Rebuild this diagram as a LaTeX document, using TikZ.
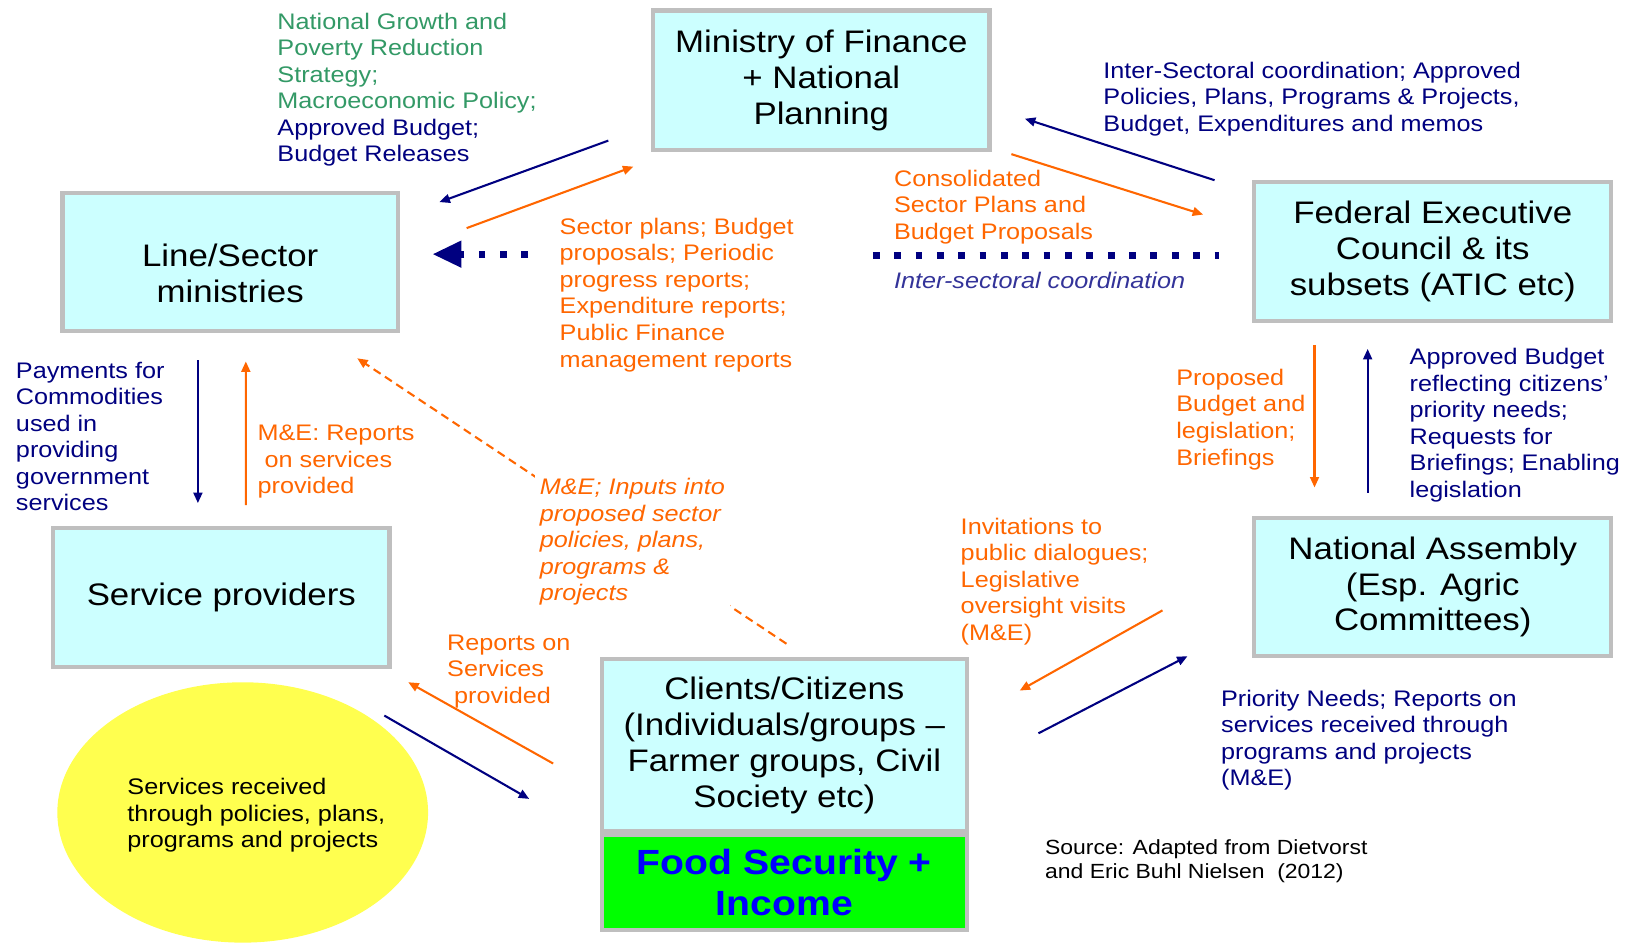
\documentclass[tikz,border=0pt]{standalone}
\usepackage{fontspec}
\setmainfont{Liberation Sans}[FakeStretch=1.12]
\usepackage{xcolor}
\usepackage{tikz}
\usetikzlibrary{shapes}
\usetikzlibrary{arrows.meta, calc}
\definecolor{navy}{HTML}{000080}
\definecolor{orng}{HTML}{FF6600}
\definecolor{grn}{HTML}{339966}
\definecolor{indig}{HTML}{333399}
\definecolor{boxcyan}{HTML}{CCFFFF}
\definecolor{boxgray}{HTML}{BFBFBF}
\definecolor{ylw}{HTML}{FFFF4F}
\definecolor{fsgreen}{HTML}{00FF00}
\definecolor{fsblue}{HTML}{0000FF}
\newcommand{\bxfont}{\fontsize{17}{19.6}\selectfont}
\newcommand{\lbfont}{\fontsize{12.3}{14.5}\selectfont}
\newcommand{\srcfont}{\fontsize{11.2}{13}\selectfont}
\newcommand{\fsfont}{\fontsize{19.1}{22.2}\selectfont\bfseries}

\begin{document}
\begin{tikzpicture}[x=0.02cm, y=-0.02cm,
		bx/.style 2 args={
			draw=boxgray,
			line width=0.08cm,
			outer sep=0.04cm,
			fill=boxcyan,
			inner sep=0pt,
			align=center,
			font=\bxfont,
			minimum width=#1,
			minimum height=#2},
		lb/.style={anchor=north west, inner sep=0pt, align=left, font=\lbfont, text=#1},
		navyarr/.style={draw=navy, line width=0.04cm, -{Triangle[length=0.2cm, width=0.17cm]}},
		orarr/.style={draw=orng, line width=0.04cm, -{Triangle[length=0.2cm, width=0.17cm]}},
		sqdots/.style={draw=navy, line width=0.14cm, dash pattern=on 0.13cm off 0.28cm}
		]
		\useasboundingbox (0, 0) rectangle (1562, 905);
		\node [bx={6.46cm}{2.68cm}] (mof) at (788.5, 77) {Ministry of Finance\\+ National\\Planning};
		\node [bx={6.44cm}{2.66cm}, label={[font=\bxfont, align=center, yshift=-0.22cm]center:Line/Sector\\ministries}] (ls) at (221, 251.5) {};
		\node [bx={6.86cm}{2.66cm}] (fec) at (1375.5, 241.5) {Federal Executive\\Council \& its\\subsets (ATIC etc)};
		\node [bx={6.46cm}{2.66cm}] (sp) at (212.5, 573.5) {Service providers};
		\node [bx={6.86cm}{2.66cm}] (na) at (1375.5, 563.5) {National Assembly\\(Esp. Agric\\Committees)};
		\node [bx={7cm}{3.3cm}] (cc) at (753, 715.5) {Clients/Citizens\\(Individuals/groups –\\Farmer groups, Civil\\Society etc)};
		\node [bx={7cm}{1.82cm}, fill=fsgreen, font=\fsfont, text=fsblue] (fs) at (753, 847.5) {Food Security +\\Income};
		\node [ellipse, fill=ylw, minimum width=7.12cm, minimum height=5cm, inner sep=0pt] (sv) at (233, 780) {};
		\node [lb=black] (svt) at (122, 747) {Services received\\through policies, plans,\\programs and projects};
		\draw[navyarr] ($(mof.south west)+(-41,-11)$) to ($(ls.north east)+(38,11)$);
		\draw[orarr] ($(ls.north east)+(64,36)$) to ($(mof.south west)+(-17,14)$);
		\draw[sqdots, -{Triangle[length=0.56cm, width=0.48cm]}] ($(ls.east)+(123,-7.5)$) to ($(ls.east)+(31,-7.5)$);
		\draw[sqdots] ($(fec.west)+(-364,3.5)$) to ($(fec.west)+(-32,3.5)$);
		\draw[navyarr] ($(fec.north west)+(-36,0)$) to ($(mof.south east)+(32,-32)$);
		\draw[orarr] ($(mof.south east)+(19,2)$) to ($(fec.north west)+(-47,33)$);
		\draw[navyarr] ($(ls.south)+(-31,26)$) to ($(sp.north)+(-22.5,-22)$);
		\draw[orarr] ($(sp.north)+(23.5,-20)$) to ($(ls.south)+(15,27)$);
		\draw[orarr, dash pattern=on 0.16cm off 0.1cm] ($(cc.north)+(2,-13)$) to ($(ls.south)+(122,24)$);
		\draw[orarr] ($(fec.south)+(-113.5,21)$) to ($(na.north)+(-113.5,-27)$);
		\draw[navyarr] ($(na.north)+(-62.5,-22)$) to ($(fec.south)+(-62.5,25)$);
		\draw[orarr] ($(na.west)+(-86,22.5)$) to ($(cc.east)+(49,-52.5)$);
		\draw[navyarr] ($(cc.east)+(67,-11.5)$) to ($(na.south west)+(-62,-2)$);
		\draw[orarr] ($(cc.west)+(-45,17.5)$) to ($(sp.south east)+(16,13)$);
		\draw[navyarr] ($(sp.south east)+(-7,45)$) to ($(cc.west)+(-68,51.5)$);
		\node [lb=grn] (pol) at (266, 12) {National Growth and\\Poverty Reduction\\Strategy;\\Macroeconomic Policy;\\\textcolor{navy}{Approved Budget;}\\\textcolor{navy}{Budget Releases}};
		\node [lb=orng] (spl) at (537, 209) {Sector plans; Budget\\proposals; Periodic\\progress reports;\\Expenditure reports;\\Public Finance\\management reports};
		\node [lb=orng] (csp) at (858, 163) {Consolidated\\Sector Plans and\\Budget Proposals};
		\node [lb=indig, font=\lbfont\itshape] (isc) at (858, 261) {Inter-sectoral coordination};
		\node [lb=navy] (apr) at (1059, 59) {Inter-Sectoral coordination; Approved\\Policies, Plans, Programs \& Projects,\\Budget, Expenditures and memos};
		\node [lb=navy] (pay) at (15, 347) {Payments for\\Commodities\\used in\\providing\\government\\services};
		\node [lb=orng] (mer) at (247, 408) {M\&E: Reports\\~on services\\provided};
		\node [lb=orng, font=\lbfont\itshape, fill=white, inner sep=0.1cm] (mei) at (513, 454) {M\&E; Inputs into\\proposed sector\\policies, plans,\\programs \&\\projects};
		\node [lb=orng] (pbl) at (1129, 354) {Proposed\\Budget and\\legislation;\\Briefings};
		\node [lb=navy] (abr) at (1353, 334) {Approved Budget\\reflecting citizens’\\priority needs;\\Requests for\\Briefings; Enabling\\legislation};
		\node [lb=orng] (inv) at (922, 497) {Invitations to\\public dialogues;\\Legislative\\oversight visits\\(M\&E)};
		\node [lb=orng] (ros) at (429, 609) {Reports on\\Services\\~provided};
		\node [lb=navy] (prn) at (1172, 662) {Priority Needs; Reports on\\services received through\\programs and projects\\(M\&E)};
		\node [lb=black, font=\srcfont] (src) at (1003, 806) {Source: Adapted from Dietvorst\\and Eric Buhl Nielsen~~(2012)};
\end{tikzpicture}
\end{document}
